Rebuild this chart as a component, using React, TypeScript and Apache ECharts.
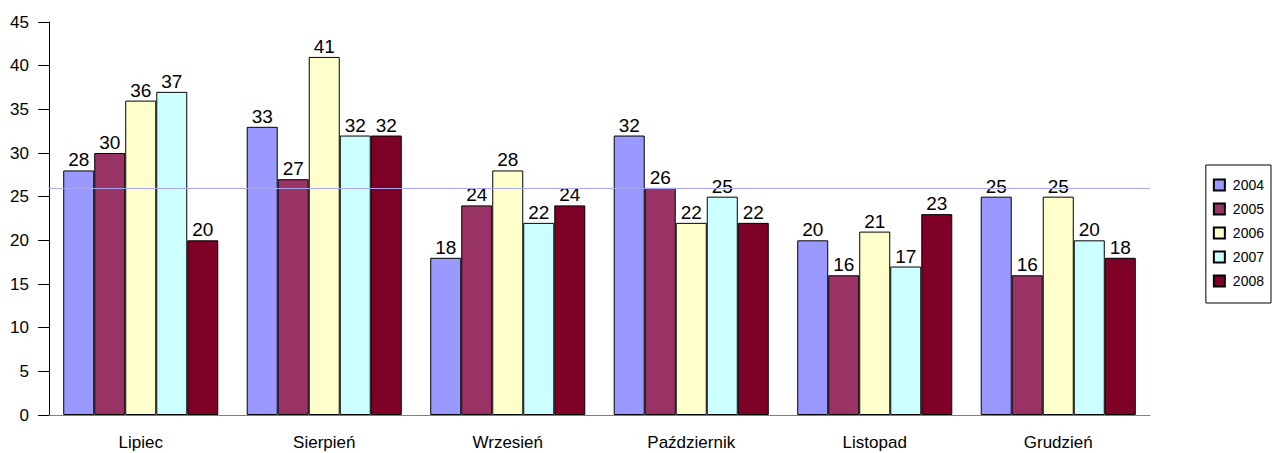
import React, { useEffect, useRef } from "react";
import * as echarts from "echarts";

const categories = ["Lipiec", "Sierpień", "Wrzesień", "Październik", "Listopad", "Grudzień"];
const seriesNames = ["2004", "2005", "2006", "2007", "2008"];
const v2004 = [28, 33, 18, 32, 20, 25];
const v2005 = [30, 27, 24, 26, 16, 16];
const v2006 = [36, 41, 28, 22, 21, 25];
const v2007 = [37, 32, 22, 25, 17, 20];
const v2008 = [20, 32, 24, 22, 23, 18];
const refLine = 26;
const colors = ["#9999FF", "#993366", "#FFFFCC", "#CCFFFF", "#7F0026"];

export default function App() {
  const ref = useRef<HTMLDivElement>(null);
  useEffect(() => {
    const chart = echarts.init(ref.current!, null, { renderer: "svg" });
    const data = [v2004, v2005, v2006, v2007, v2008];
    const series: any[] = data.map((d, i) => ({
      name: seriesNames[i],
      type: "bar",
      data: d,
      barGap: "0%",
      barCategoryGap: "15.5%",
      itemStyle: { color: colors[i], borderColor: "#000", borderWidth: 1 },
      label: {
        show: true,
        position: "top",
        distance: 1,
        color: "#000",
        fontSize: 19,
        fontFamily: "Arial, 'Liberation Sans', sans-serif",
      },
    }));
    series[0].markLine = {
      silent: true,
      symbol: "none",
      label: { show: false },
      lineStyle: { color: "#A8A8F0", type: "solid", width: 1 },
      data: [{ yAxis: refLine }],
    };
    chart.setOption({
      animation: false,
      backgroundColor: "#fff",
      textStyle: { fontFamily: "Arial, 'Liberation Sans', sans-serif" },
      grid: { left: 49, right: 122, top: 22, bottom: 38 },
      legend: {
        orient: "vertical",
        right: 1,
        top: 165,
        padding: [13, 7, 15, 7],
        itemWidth: 11,
        itemHeight: 11,
        itemGap: 10,
        icon: "rect",
        borderColor: "#000",
        borderWidth: 1,
        textStyle: { fontSize: 14, lineHeight: 12, color: "#000", padding: [0, 0, 0, 3] },
        data: seriesNames,
      },
      xAxis: {
        type: "category",
        data: categories,
        axisLine: { lineStyle: { color: "#808080", width: 1 } },
        axisTick: { alignWithLabel: true, length: 9, lineStyle: { color: "#000" } },
        axisLabel: { color: "#000", fontSize: 17, margin: 19 },
      },
      yAxis: {
        type: "value",
        min: 0,
        max: 45,
        interval: 5,
        splitLine: { show: false },
        axisLine: { show: true, lineStyle: { color: "#000" } },
        axisTick: { show: true, length: 11, lineStyle: { color: "#000" } },
        axisLabel: { color: "#000", fontSize: 17, margin: 20 },
      },
      series,
    });
    return () => chart.dispose();
  }, []);
  return (
    <div
      ref={ref}
      style={{ position: "fixed", left: 0, top: 0, width: 1272, height: 453 }}
    />
  );
}
